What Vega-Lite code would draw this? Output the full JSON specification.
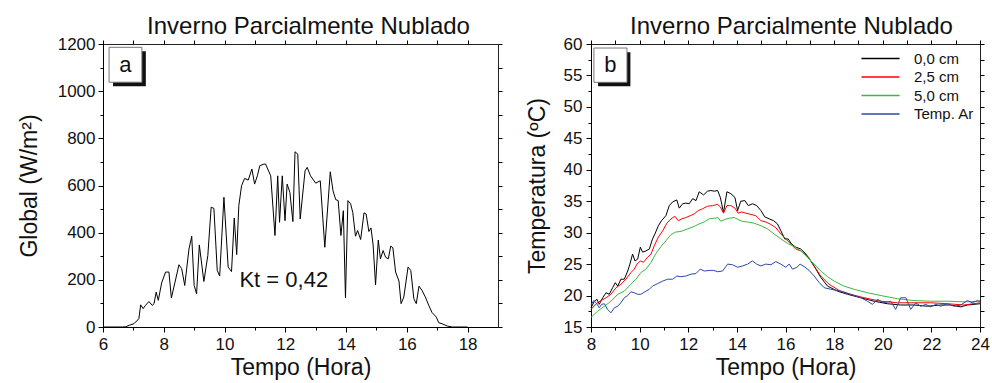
{
  "$schema": "https://vega.github.io/schema/vega-lite/v6.json",
  "background": "white",
  "padding": {"left": 17, "top": 14, "right": 1, "bottom": 0},
  "spacing": 22,
  "resolve": {"scale": {"color": "independent"}, "legend": {"color": "independent"}},
  "config": {
    "font": "Liberation Sans",
    "view": {"stroke": "#222", "strokeWidth": 1},
    "axis": {"grid": false, "labelFontSize": 17, "titleFontSize": 23, "titleFontWeight": "normal", "domainColor": "#000", "tickColor": "#000", "labelColor": "#111", "titleColor": "#111", "tickSize": 5, "labelPadding": 3, "format": "d", "labelFlush": false, "labelOverlap": false},
    "title": {"fontSize": 24, "fontWeight": "normal", "color": "#111", "offset": -4}
  },
  "datasets": {
    "global": [
      {"hora": 6.0, "global": 0}, {"hora": 6.64, "global": 0}, {"hora": 6.75, "global": 1}, {"hora": 6.86, "global": 7}, {"hora": 7.02, "global": 14}, {"hora": 7.18, "global": 35}, {"hora": 7.24, "global": 94}, {"hora": 7.32, "global": 78}, {"hora": 7.40, "global": 92}, {"hora": 7.51, "global": 108}, {"hora": 7.62, "global": 92}, {"hora": 7.68, "global": 99}, {"hora": 7.75, "global": 148}, {"hora": 7.82, "global": 113}, {"hora": 7.93, "global": 187}, {"hora": 8.06, "global": 233}, {"hora": 8.17, "global": 233}, {"hora": 8.25, "global": 123}, {"hora": 8.37, "global": 190}, {"hora": 8.50, "global": 264}, {"hora": 8.59, "global": 247}, {"hora": 8.69, "global": 176}, {"hora": 8.83, "global": 331}, {"hora": 8.92, "global": 385}, {"hora": 9.00, "global": 176}, {"hora": 9.08, "global": 141}, {"hora": 9.17, "global": 348}, {"hora": 9.32, "global": 193}, {"hora": 9.45, "global": 303}, {"hora": 9.56, "global": 508}, {"hora": 9.65, "global": 503}, {"hora": 9.76, "global": 240}, {"hora": 9.84, "global": 216}, {"hora": 9.98, "global": 550}, {"hora": 10.12, "global": 254}, {"hora": 10.23, "global": 235}, {"hora": 10.32, "global": 462}, {"hora": 10.40, "global": 307}, {"hora": 10.47, "global": 515}, {"hora": 10.56, "global": 599}, {"hora": 10.66, "global": 630}, {"hora": 10.78, "global": 623}, {"hora": 10.90, "global": 670}, {"hora": 10.99, "global": 606}, {"hora": 11.08, "global": 641}, {"hora": 11.16, "global": 684}, {"hora": 11.30, "global": 691}, {"hora": 11.35, "global": 691}, {"hora": 11.52, "global": 641}, {"hora": 11.66, "global": 388}, {"hora": 11.75, "global": 641}, {"hora": 11.81, "global": 444}, {"hora": 11.90, "global": 641}, {"hora": 11.99, "global": 451}, {"hora": 12.06, "global": 606}, {"hora": 12.15, "global": 571}, {"hora": 12.25, "global": 447}, {"hora": 12.32, "global": 743}, {"hora": 12.41, "global": 733}, {"hora": 12.49, "global": 458}, {"hora": 12.65, "global": 662}, {"hora": 12.72, "global": 677}, {"hora": 12.83, "global": 641}, {"hora": 13.00, "global": 610}, {"hora": 13.15, "global": 620}, {"hora": 13.30, "global": 338}, {"hora": 13.48, "global": 658}, {"hora": 13.57, "global": 578}, {"hora": 13.66, "global": 540}, {"hora": 13.74, "global": 536}, {"hora": 13.83, "global": 388}, {"hora": 13.91, "global": 493}, {"hora": 13.98, "global": 123}, {"hora": 14.06, "global": 536}, {"hora": 14.15, "global": 522}, {"hora": 14.22, "global": 486}, {"hora": 14.31, "global": 385}, {"hora": 14.38, "global": 409}, {"hora": 14.48, "global": 371}, {"hora": 14.59, "global": 484}, {"hora": 14.66, "global": 479}, {"hora": 14.75, "global": 405}, {"hora": 14.82, "global": 420}, {"hora": 14.89, "global": 348}, {"hora": 14.97, "global": 179}, {"hora": 15.06, "global": 369}, {"hora": 15.13, "global": 289}, {"hora": 15.22, "global": 324}, {"hora": 15.30, "global": 296}, {"hora": 15.39, "global": 289}, {"hora": 15.47, "global": 343}, {"hora": 15.54, "global": 336}, {"hora": 15.63, "global": 233}, {"hora": 15.74, "global": 195}, {"hora": 15.81, "global": 99}, {"hora": 15.90, "global": 127}, {"hora": 16.04, "global": 254}, {"hora": 16.13, "global": 240}, {"hora": 16.23, "global": 120}, {"hora": 16.31, "global": 99}, {"hora": 16.40, "global": 173}, {"hora": 16.50, "global": 155}, {"hora": 16.61, "global": 127}, {"hora": 16.72, "global": 92}, {"hora": 16.83, "global": 61}, {"hora": 16.97, "global": 42}, {"hora": 17.05, "global": 18}, {"hora": 17.16, "global": 14}, {"hora": 17.33, "global": 4}, {"hora": 17.49, "global": 0}, {"hora": 18.0, "global": 0}
    ],
    "temp": [
      {"hora": 8.0, "temp": 18.05, "serie": "0,0 cm"}, {"hora": 8.14, "temp": 19.1, "serie": "0,0 cm"}, {"hora": 8.25, "temp": 19.4, "serie": "0,0 cm"}, {"hora": 8.34, "temp": 18.6, "serie": "0,0 cm"}, {"hora": 8.48, "temp": 19.65, "serie": "0,0 cm"}, {"hora": 8.62, "temp": 20.45, "serie": "0,0 cm"}, {"hora": 8.75, "temp": 20.2, "serie": "0,0 cm"}, {"hora": 8.89, "temp": 21.25, "serie": "0,0 cm"}, {"hora": 9.0, "temp": 22.05, "serie": "0,0 cm"}, {"hora": 9.10, "temp": 21.5, "serie": "0,0 cm"}, {"hora": 9.23, "temp": 22.6, "serie": "0,0 cm"}, {"hora": 9.37, "temp": 22.6, "serie": "0,0 cm"}, {"hora": 9.51, "temp": 23.9, "serie": "0,0 cm"}, {"hora": 9.60, "temp": 25.0, "serie": "0,0 cm"}, {"hora": 9.71, "temp": 26.6, "serie": "0,0 cm"}, {"hora": 9.81, "temp": 25.5, "serie": "0,0 cm"}, {"hora": 9.92, "temp": 25.8, "serie": "0,0 cm"}, {"hora": 10.03, "temp": 27.7, "serie": "0,0 cm"}, {"hora": 10.12, "temp": 26.9, "serie": "0,0 cm"}, {"hora": 10.26, "temp": 27.1, "serie": "0,0 cm"}, {"hora": 10.40, "temp": 27.4, "serie": "0,0 cm"}, {"hora": 10.53, "temp": 29.0, "serie": "0,0 cm"}, {"hora": 10.63, "temp": 29.8, "serie": "0,0 cm"}, {"hora": 10.77, "temp": 31.1, "serie": "0,0 cm"}, {"hora": 10.90, "temp": 31.9, "serie": "0,0 cm"}, {"hora": 11.08, "temp": 32.7, "serie": "0,0 cm"}, {"hora": 11.22, "temp": 34.3, "serie": "0,0 cm"}, {"hora": 11.36, "temp": 34.9, "serie": "0,0 cm"}, {"hora": 11.53, "temp": 35.2, "serie": "0,0 cm"}, {"hora": 11.63, "temp": 33.9, "serie": "0,0 cm"}, {"hora": 11.77, "temp": 34.6, "serie": "0,0 cm"}, {"hora": 11.90, "temp": 34.7, "serie": "0,0 cm"}, {"hora": 12.04, "temp": 34.6, "serie": "0,0 cm"}, {"hora": 12.18, "temp": 35.4, "serie": "0,0 cm"}, {"hora": 12.32, "temp": 35.1, "serie": "0,0 cm"}, {"hora": 12.45, "temp": 36.5, "serie": "0,0 cm"}, {"hora": 12.63, "temp": 36.0, "serie": "0,0 cm"}, {"hora": 12.79, "temp": 36.6, "serie": "0,0 cm"}, {"hora": 12.93, "temp": 36.7, "serie": "0,0 cm"}, {"hora": 13.07, "temp": 36.6, "serie": "0,0 cm"}, {"hora": 13.21, "temp": 36.7, "serie": "0,0 cm"}, {"hora": 13.32, "temp": 35.6, "serie": "0,0 cm"}, {"hora": 13.45, "temp": 33.2, "serie": "0,0 cm"}, {"hora": 13.59, "temp": 36.5, "serie": "0,0 cm"}, {"hora": 13.75, "temp": 36.2, "serie": "0,0 cm"}, {"hora": 13.92, "temp": 35.6, "serie": "0,0 cm"}, {"hora": 14.03, "temp": 33.5, "serie": "0,0 cm"}, {"hora": 14.16, "temp": 35.0, "serie": "0,0 cm"}, {"hora": 14.33, "temp": 35.1, "serie": "0,0 cm"}, {"hora": 14.47, "temp": 34.3, "serie": "0,0 cm"}, {"hora": 14.64, "temp": 34.6, "serie": "0,0 cm"}, {"hora": 14.82, "temp": 34.3, "serie": "0,0 cm"}, {"hora": 14.99, "temp": 33.5, "serie": "0,0 cm"}, {"hora": 15.15, "temp": 32.5, "serie": "0,0 cm"}, {"hora": 15.33, "temp": 32.2, "serie": "0,0 cm"}, {"hora": 15.51, "temp": 31.9, "serie": "0,0 cm"}, {"hora": 15.67, "temp": 31.4, "serie": "0,0 cm"}, {"hora": 15.81, "temp": 30.3, "serie": "0,0 cm"}, {"hora": 15.97, "temp": 29.0, "serie": "0,0 cm"}, {"hora": 16.11, "temp": 29.0, "serie": "0,0 cm"}, {"hora": 16.25, "temp": 28.2, "serie": "0,0 cm"}, {"hora": 16.42, "temp": 27.7, "serie": "0,0 cm"}, {"hora": 16.63, "temp": 27.4, "serie": "0,0 cm"}, {"hora": 16.84, "temp": 26.6, "serie": "0,0 cm"}, {"hora": 17.04, "temp": 25.5, "serie": "0,0 cm"}, {"hora": 17.25, "temp": 24.2, "serie": "0,0 cm"}, {"hora": 17.45, "temp": 22.9, "serie": "0,0 cm"}, {"hora": 17.73, "temp": 21.5, "serie": "0,0 cm"}, {"hora": 18.14, "temp": 20.7, "serie": "0,0 cm"}, {"hora": 18.55, "temp": 20.2, "serie": "0,0 cm"}, {"hora": 19.10, "temp": 19.65, "serie": "0,0 cm"}, {"hora": 19.64, "temp": 19.1, "serie": "0,0 cm"}, {"hora": 20.19, "temp": 18.7, "serie": "0,0 cm"}, {"hora": 20.74, "temp": 18.5, "serie": "0,0 cm"}, {"hora": 21.29, "temp": 18.5, "serie": "0,0 cm"}, {"hora": 21.84, "temp": 18.3, "serie": "0,0 cm"}, {"hora": 22.38, "temp": 18.5, "serie": "0,0 cm"}, {"hora": 22.79, "temp": 18.5, "serie": "0,0 cm"}, {"hora": 23.21, "temp": 18.2, "serie": "0,0 cm"}, {"hora": 23.48, "temp": 18.5, "serie": "0,0 cm"}, {"hora": 24.0, "temp": 18.7, "serie": "0,0 cm"},
      {"hora": 8.0, "temp": 17.8, "serie": "2,5 cm"}, {"hora": 8.21, "temp": 18.7, "serie": "2,5 cm"}, {"hora": 8.41, "temp": 19.2, "serie": "2,5 cm"}, {"hora": 8.62, "temp": 19.65, "serie": "2,5 cm"}, {"hora": 8.82, "temp": 20.2, "serie": "2,5 cm"}, {"hora": 9.03, "temp": 21.25, "serie": "2,5 cm"}, {"hora": 9.23, "temp": 21.8, "serie": "2,5 cm"}, {"hora": 9.44, "temp": 22.6, "serie": "2,5 cm"}, {"hora": 9.64, "temp": 23.65, "serie": "2,5 cm"}, {"hora": 9.78, "temp": 24.2, "serie": "2,5 cm"}, {"hora": 9.89, "temp": 25.0, "serie": "2,5 cm"}, {"hora": 10.03, "temp": 25.5, "serie": "2,5 cm"}, {"hora": 10.16, "temp": 25.3, "serie": "2,5 cm"}, {"hora": 10.33, "temp": 26.1, "serie": "2,5 cm"}, {"hora": 10.47, "temp": 26.6, "serie": "2,5 cm"}, {"hora": 10.60, "temp": 27.9, "serie": "2,5 cm"}, {"hora": 10.77, "temp": 29.3, "serie": "2,5 cm"}, {"hora": 10.95, "temp": 30.3, "serie": "2,5 cm"}, {"hora": 11.12, "temp": 31.5, "serie": "2,5 cm"}, {"hora": 11.29, "temp": 32.2, "serie": "2,5 cm"}, {"hora": 11.45, "temp": 32.6, "serie": "2,5 cm"}, {"hora": 11.59, "temp": 31.9, "serie": "2,5 cm"}, {"hora": 11.73, "temp": 32.2, "serie": "2,5 cm"}, {"hora": 11.90, "temp": 32.4, "serie": "2,5 cm"}, {"hora": 12.08, "temp": 32.7, "serie": "2,5 cm"}, {"hora": 12.25, "temp": 33.0, "serie": "2,5 cm"}, {"hora": 12.41, "temp": 33.5, "serie": "2,5 cm"}, {"hora": 12.59, "temp": 33.8, "serie": "2,5 cm"}, {"hora": 12.79, "temp": 34.2, "serie": "2,5 cm"}, {"hora": 13.0, "temp": 34.3, "serie": "2,5 cm"}, {"hora": 13.21, "temp": 34.5, "serie": "2,5 cm"}, {"hora": 13.32, "temp": 34.1, "serie": "2,5 cm"}, {"hora": 13.45, "temp": 33.1, "serie": "2,5 cm"}, {"hora": 13.59, "temp": 34.3, "serie": "2,5 cm"}, {"hora": 13.75, "temp": 34.3, "serie": "2,5 cm"}, {"hora": 13.92, "temp": 33.9, "serie": "2,5 cm"}, {"hora": 14.05, "temp": 33.1, "serie": "2,5 cm"}, {"hora": 14.19, "temp": 33.3, "serie": "2,5 cm"}, {"hora": 14.37, "temp": 33.1, "serie": "2,5 cm"}, {"hora": 14.58, "temp": 32.9, "serie": "2,5 cm"}, {"hora": 14.78, "temp": 32.7, "serie": "2,5 cm"}, {"hora": 14.99, "temp": 31.9, "serie": "2,5 cm"}, {"hora": 15.19, "temp": 31.7, "serie": "2,5 cm"}, {"hora": 15.40, "temp": 31.3, "serie": "2,5 cm"}, {"hora": 15.60, "temp": 30.8, "serie": "2,5 cm"}, {"hora": 15.81, "temp": 29.8, "serie": "2,5 cm"}, {"hora": 16.01, "temp": 29.0, "serie": "2,5 cm"}, {"hora": 16.22, "temp": 28.2, "serie": "2,5 cm"}, {"hora": 16.42, "temp": 27.4, "serie": "2,5 cm"}, {"hora": 16.63, "temp": 27.1, "serie": "2,5 cm"}, {"hora": 16.90, "temp": 26.3, "serie": "2,5 cm"}, {"hora": 17.18, "temp": 24.7, "serie": "2,5 cm"}, {"hora": 17.45, "temp": 23.1, "serie": "2,5 cm"}, {"hora": 17.79, "temp": 21.8, "serie": "2,5 cm"}, {"hora": 18.21, "temp": 20.8, "serie": "2,5 cm"}, {"hora": 18.68, "temp": 20.2, "serie": "2,5 cm"}, {"hora": 19.23, "temp": 19.65, "serie": "2,5 cm"}, {"hora": 19.92, "temp": 19.1, "serie": "2,5 cm"}, {"hora": 20.60, "temp": 18.85, "serie": "2,5 cm"}, {"hora": 21.29, "temp": 18.85, "serie": "2,5 cm"}, {"hora": 21.97, "temp": 18.85, "serie": "2,5 cm"}, {"hora": 22.66, "temp": 18.7, "serie": "2,5 cm"}, {"hora": 23.34, "temp": 18.5, "serie": "2,5 cm"}, {"hora": 24.0, "temp": 18.85, "serie": "2,5 cm"},
      {"hora": 8.0, "temp": 16.55, "serie": "5,0 cm"}, {"hora": 8.27, "temp": 17.5, "serie": "5,0 cm"}, {"hora": 8.55, "temp": 18.3, "serie": "5,0 cm"}, {"hora": 8.82, "temp": 19.1, "serie": "5,0 cm"}, {"hora": 9.10, "temp": 20.2, "serie": "5,0 cm"}, {"hora": 9.37, "temp": 20.7, "serie": "5,0 cm"}, {"hora": 9.64, "temp": 21.8, "serie": "5,0 cm"}, {"hora": 9.85, "temp": 22.6, "serie": "5,0 cm"}, {"hora": 10.05, "temp": 23.65, "serie": "5,0 cm"}, {"hora": 10.26, "temp": 24.2, "serie": "5,0 cm"}, {"hora": 10.47, "temp": 25.3, "serie": "5,0 cm"}, {"hora": 10.67, "temp": 26.7, "serie": "5,0 cm"}, {"hora": 10.88, "temp": 27.8, "serie": "5,0 cm"}, {"hora": 11.08, "temp": 28.7, "serie": "5,0 cm"}, {"hora": 11.29, "temp": 29.7, "serie": "5,0 cm"}, {"hora": 11.49, "temp": 30.1, "serie": "5,0 cm"}, {"hora": 11.70, "temp": 30.2, "serie": "5,0 cm"}, {"hora": 11.97, "temp": 30.6, "serie": "5,0 cm"}, {"hora": 12.25, "temp": 31.0, "serie": "5,0 cm"}, {"hora": 12.45, "temp": 31.4, "serie": "5,0 cm"}, {"hora": 12.66, "temp": 31.7, "serie": "5,0 cm"}, {"hora": 12.86, "temp": 32.2, "serie": "5,0 cm"}, {"hora": 13.07, "temp": 32.3, "serie": "5,0 cm"}, {"hora": 13.23, "temp": 32.4, "serie": "5,0 cm"}, {"hora": 13.34, "temp": 31.8, "serie": "5,0 cm"}, {"hora": 13.51, "temp": 32.1, "serie": "5,0 cm"}, {"hora": 13.68, "temp": 32.3, "serie": "5,0 cm"}, {"hora": 13.89, "temp": 32.4, "serie": "5,0 cm"}, {"hora": 14.05, "temp": 32.1, "serie": "5,0 cm"}, {"hora": 14.23, "temp": 31.8, "serie": "5,0 cm"}, {"hora": 14.44, "temp": 31.7, "serie": "5,0 cm"}, {"hora": 14.71, "temp": 31.5, "serie": "5,0 cm"}, {"hora": 14.99, "temp": 31.1, "serie": "5,0 cm"}, {"hora": 15.26, "temp": 30.6, "serie": "5,0 cm"}, {"hora": 15.53, "temp": 29.8, "serie": "5,0 cm"}, {"hora": 15.81, "temp": 29.0, "serie": "5,0 cm"}, {"hora": 16.08, "temp": 28.3, "serie": "5,0 cm"}, {"hora": 16.36, "temp": 27.8, "serie": "5,0 cm"}, {"hora": 16.63, "temp": 27.1, "serie": "5,0 cm"}, {"hora": 16.90, "temp": 26.1, "serie": "5,0 cm"}, {"hora": 17.18, "temp": 25.0, "serie": "5,0 cm"}, {"hora": 17.45, "temp": 23.9, "serie": "5,0 cm"}, {"hora": 17.73, "temp": 23.0, "serie": "5,0 cm"}, {"hora": 18.0, "temp": 22.3, "serie": "5,0 cm"}, {"hora": 18.41, "temp": 21.5, "serie": "5,0 cm"}, {"hora": 18.82, "temp": 21.0, "serie": "5,0 cm"}, {"hora": 19.37, "temp": 20.45, "serie": "5,0 cm"}, {"hora": 19.92, "temp": 20.0, "serie": "5,0 cm"}, {"hora": 20.60, "temp": 19.5, "serie": "5,0 cm"}, {"hora": 21.29, "temp": 19.2, "serie": "5,0 cm"}, {"hora": 21.97, "temp": 19.1, "serie": "5,0 cm"}, {"hora": 22.66, "temp": 19.1, "serie": "5,0 cm"}, {"hora": 23.34, "temp": 19.0, "serie": "5,0 cm"}, {"hora": 24.0, "temp": 19.1, "serie": "5,0 cm"},
      {"hora": 8.0, "temp": 18.5, "serie": "Temp. Ar"}, {"hora": 8.11, "temp": 19.2, "serie": "Temp. Ar"}, {"hora": 8.21, "temp": 18.85, "serie": "Temp. Ar"}, {"hora": 8.34, "temp": 18.05, "serie": "Temp. Ar"}, {"hora": 8.44, "temp": 18.6, "serie": "Temp. Ar"}, {"hora": 8.55, "temp": 18.7, "serie": "Temp. Ar"}, {"hora": 8.68, "temp": 17.8, "serie": "Temp. Ar"}, {"hora": 8.82, "temp": 17.25, "serie": "Temp. Ar"}, {"hora": 8.96, "temp": 18.05, "serie": "Temp. Ar"}, {"hora": 9.10, "temp": 18.3, "serie": "Temp. Ar"}, {"hora": 9.23, "temp": 18.85, "serie": "Temp. Ar"}, {"hora": 9.37, "temp": 19.65, "serie": "Temp. Ar"}, {"hora": 9.51, "temp": 20.0, "serie": "Temp. Ar"}, {"hora": 9.64, "temp": 20.6, "serie": "Temp. Ar"}, {"hora": 9.78, "temp": 20.45, "serie": "Temp. Ar"}, {"hora": 9.92, "temp": 20.2, "serie": "Temp. Ar"}, {"hora": 10.05, "temp": 20.2, "serie": "Temp. Ar"}, {"hora": 10.26, "temp": 20.7, "serie": "Temp. Ar"}, {"hora": 10.40, "temp": 21.0, "serie": "Temp. Ar"}, {"hora": 10.53, "temp": 21.5, "serie": "Temp. Ar"}, {"hora": 10.74, "temp": 21.9, "serie": "Temp. Ar"}, {"hora": 10.95, "temp": 22.3, "serie": "Temp. Ar"}, {"hora": 11.15, "temp": 22.6, "serie": "Temp. Ar"}, {"hora": 11.36, "temp": 22.6, "serie": "Temp. Ar"}, {"hora": 11.53, "temp": 23.1, "serie": "Temp. Ar"}, {"hora": 11.70, "temp": 23.0, "serie": "Temp. Ar"}, {"hora": 11.90, "temp": 23.1, "serie": "Temp. Ar"}, {"hora": 12.11, "temp": 23.4, "serie": "Temp. Ar"}, {"hora": 12.32, "temp": 23.5, "serie": "Temp. Ar"}, {"hora": 12.49, "temp": 24.2, "serie": "Temp. Ar"}, {"hora": 12.66, "temp": 23.9, "serie": "Temp. Ar"}, {"hora": 12.86, "temp": 24.0, "serie": "Temp. Ar"}, {"hora": 13.04, "temp": 24.0, "serie": "Temp. Ar"}, {"hora": 13.21, "temp": 23.8, "serie": "Temp. Ar"}, {"hora": 13.41, "temp": 23.9, "serie": "Temp. Ar"}, {"hora": 13.62, "temp": 25.0, "serie": "Temp. Ar"}, {"hora": 13.82, "temp": 24.9, "serie": "Temp. Ar"}, {"hora": 14.03, "temp": 24.5, "serie": "Temp. Ar"}, {"hora": 14.23, "temp": 24.7, "serie": "Temp. Ar"}, {"hora": 14.44, "temp": 25.0, "serie": "Temp. Ar"}, {"hora": 14.64, "temp": 25.5, "serie": "Temp. Ar"}, {"hora": 14.82, "temp": 25.0, "serie": "Temp. Ar"}, {"hora": 14.99, "temp": 24.7, "serie": "Temp. Ar"}, {"hora": 15.19, "temp": 25.0, "serie": "Temp. Ar"}, {"hora": 15.40, "temp": 24.9, "serie": "Temp. Ar"}, {"hora": 15.60, "temp": 25.4, "serie": "Temp. Ar"}, {"hora": 15.81, "temp": 25.0, "serie": "Temp. Ar"}, {"hora": 16.01, "temp": 24.5, "serie": "Temp. Ar"}, {"hora": 16.15, "temp": 25.0, "serie": "Temp. Ar"}, {"hora": 16.29, "temp": 24.2, "serie": "Temp. Ar"}, {"hora": 16.47, "temp": 24.5, "serie": "Temp. Ar"}, {"hora": 16.60, "temp": 25.0, "serie": "Temp. Ar"}, {"hora": 16.77, "temp": 24.6, "serie": "Temp. Ar"}, {"hora": 16.97, "temp": 24.0, "serie": "Temp. Ar"}, {"hora": 17.18, "temp": 23.1, "serie": "Temp. Ar"}, {"hora": 17.38, "temp": 22.1, "serie": "Temp. Ar"}, {"hora": 17.59, "temp": 21.25, "serie": "Temp. Ar"}, {"hora": 17.86, "temp": 21.0, "serie": "Temp. Ar"}, {"hora": 18.27, "temp": 20.7, "serie": "Temp. Ar"}, {"hora": 18.68, "temp": 20.2, "serie": "Temp. Ar"}, {"hora": 19.10, "temp": 19.65, "serie": "Temp. Ar"}, {"hora": 19.37, "temp": 19.1, "serie": "Temp. Ar"}, {"hora": 19.58, "temp": 18.6, "serie": "Temp. Ar"}, {"hora": 19.78, "temp": 19.4, "serie": "Temp. Ar"}, {"hora": 20.05, "temp": 18.85, "serie": "Temp. Ar"}, {"hora": 20.33, "temp": 19.1, "serie": "Temp. Ar"}, {"hora": 20.53, "temp": 17.8, "serie": "Temp. Ar"}, {"hora": 20.74, "temp": 19.65, "serie": "Temp. Ar"}, {"hora": 20.95, "temp": 19.65, "serie": "Temp. Ar"}, {"hora": 21.15, "temp": 17.8, "serie": "Temp. Ar"}, {"hora": 21.36, "temp": 18.85, "serie": "Temp. Ar"}, {"hora": 21.56, "temp": 18.3, "serie": "Temp. Ar"}, {"hora": 21.77, "temp": 18.6, "serie": "Temp. Ar"}, {"hora": 21.97, "temp": 18.2, "serie": "Temp. Ar"}, {"hora": 22.18, "temp": 18.6, "serie": "Temp. Ar"}, {"hora": 22.38, "temp": 18.3, "serie": "Temp. Ar"}, {"hora": 22.66, "temp": 18.7, "serie": "Temp. Ar"}, {"hora": 22.93, "temp": 18.3, "serie": "Temp. Ar"}, {"hora": 23.21, "temp": 18.5, "serie": "Temp. Ar"}, {"hora": 23.48, "temp": 19.2, "serie": "Temp. Ar"}, {"hora": 23.68, "temp": 18.85, "serie": "Temp. Ar"}, {"hora": 23.89, "temp": 19.2, "serie": "Temp. Ar"}, {"hora": 24.0, "temp": 19.1, "serie": "Temp. Ar"}
    ]
  },
  "hconcat": [
    {
      "width": 395,
      "height": 283,
      "title": {"text": "Inverno Parcialmente Nublado", "dx": 8},
      "resolve": {"axis": {"x": "independent", "y": "independent"}},
      "layer": [
        {
          "data": {"name": "global"},
          "mark": {"type": "line", "color": "#000", "strokeWidth": 1},
          "encoding": {
            "x": {"field": "hora", "type": "quantitative", "scale": {"domain": [6, 19], "nice": false, "zero": false}, "axis": {"values": [6, 8, 10, 12, 14, 16, 18], "title": "Tempo (Hora)", "orient": "bottom", "titlePadding": 4, "labelPadding": 4}},
            "y": {"field": "global", "type": "quantitative", "scale": {"domain": [0, 1200], "nice": false}, "axis": {"values": [0, 200, 400, 600, 800, 1000, 1200], "title": "Global (W/m²)", "orient": "left", "titlePadding": 16}}
          }
        },
        {
          "data": {"name": "global"},
          "mark": {"type": "line", "opacity": 0},
          "encoding": {
            "x": {"field": "hora", "type": "quantitative", "axis": {"values": [7, 9, 11, 13, 15, 17], "labels": false, "domain": false, "tickSize": 3, "title": null, "orient": "bottom"}},
            "y": {"field": "global", "type": "quantitative", "axis": {"values": [100, 300, 500, 700, 900, 1100], "labels": false, "domain": false, "tickSize": 3, "title": null, "orient": "left"}}
          }
        },
        {
          "data": {"name": "global"},
          "mark": {"type": "line", "opacity": 0},
          "encoding": {
            "x": {"field": "hora", "type": "quantitative", "axis": {"values": [6, 7, 8, 9, 10, 11, 12, 13, 14, 15, 16, 17, 18], "labels": false, "domain": false, "tickSize": 4, "title": null, "orient": "top"}},
            "y": {"field": "global", "type": "quantitative", "axis": {"values": [0, 100, 200, 300, 400, 500, 600, 700, 800, 900, 1000, 1100, 1200], "labels": false, "domain": false, "tickSize": 4, "title": null, "orient": "right"}}
          }
        },
        {
          "data": {"values": [{}]},
          "mark": {"type": "rect", "color": "#111"},
          "encoding": {
            "x": {"datum": 6.33, "type": "quantitative", "axis": null}, "x2": {"datum": 7.41},
            "y": {"datum": 1169, "type": "quantitative", "axis": null}, "y2": {"datum": 1021}
          }
        },
        {
          "data": {"values": [{}]},
          "mark": {"type": "rect", "fill": "#fff", "stroke": "#777", "strokeWidth": 1},
          "encoding": {
            "x": {"datum": 6.2, "type": "quantitative", "axis": null}, "x2": {"datum": 7.28},
            "y": {"datum": 1186, "type": "quantitative", "axis": null}, "y2": {"datum": 1038}
          }
        },
        {
          "data": {"values": [{}]},
          "mark": {"type": "text", "text": "a", "fontSize": 22, "align": "center", "baseline": "middle", "color": "#111"},
          "encoding": {
            "x": {"datum": 6.74, "type": "quantitative", "axis": null},
            "y": {"datum": 1113, "type": "quantitative", "axis": null}
          }
        },
        {
          "data": {"values": [{}]},
          "mark": {"type": "text", "text": "Kt = 0,42", "fontSize": 22, "align": "center", "baseline": "middle", "color": "#111"},
          "encoding": {
            "x": {"datum": 11.95, "type": "quantitative", "axis": null},
            "y": {"datum": 200, "type": "quantitative", "axis": null}
          }
        }
      ]
    },
    {
      "width": 389,
      "height": 283,
      "title": {"text": "Inverno Parcialmente Nublado", "dx": 6},
      "resolve": {"axis": {"x": "independent", "y": "independent"}},
      "layer": [
        {
          "data": {"name": "temp"},
          "mark": {"type": "line", "strokeWidth": 1},
          "encoding": {
            "x": {"field": "hora", "type": "quantitative", "scale": {"domain": [8, 24], "nice": false, "zero": false}, "axis": {"values": [8, 10, 12, 14, 16, 18, 20, 22, 24], "title": "Tempo (Hora)", "orient": "bottom", "titlePadding": 4, "labelPadding": 4}},
            "y": {"field": "temp", "type": "quantitative", "scale": {"domain": [15, 60], "nice": false, "zero": false}, "axis": {"values": [15, 20, 25, 30, 35, 40, 45, 50, 55, 60], "title": "Temperatura (ºC)", "orient": "left", "titlePadding": 14, "labelPadding": 4}},
            "color": {"field": "serie", "type": "nominal", "scale": {"domain": ["0,0 cm", "2,5 cm", "5,0 cm", "Temp. Ar"], "range": ["#000000", "#ff0000", "#3cb83c", "#2a4aa8"]},
              "legend": {"title": null, "orient": "top-right", "offset": 3, "padding": 2, "labelFontSize": 15, "symbolType": "M-2.2,0H2.2", "symbolSize": 300, "symbolStrokeWidth": 1.5, "rowPadding": 0.5, "labelOffset": 24, "labelColor": "#111"}}
          }
        },
        {
          "data": {"name": "temp"},
          "mark": {"type": "line", "opacity": 0},
          "encoding": {
            "x": {"field": "hora", "type": "quantitative", "axis": {"values": [9, 11, 13, 15, 17, 19, 21, 23], "labels": false, "domain": false, "tickSize": 3, "title": null, "orient": "bottom"}},
            "y": {"field": "temp", "type": "quantitative", "axis": {"values": [17.5, 22.5, 27.5, 32.5, 37.5, 42.5, 47.5, 52.5, 57.5], "labels": false, "domain": false, "tickSize": 3, "title": null, "orient": "left"}}
          }
        },
        {
          "data": {"name": "temp"},
          "mark": {"type": "line", "opacity": 0},
          "encoding": {
            "x": {"field": "hora", "type": "quantitative", "axis": {"values": [8, 9, 10, 11, 12, 13, 14, 15, 16, 17, 18, 19, 20, 21, 22, 23, 24], "labels": false, "domain": false, "tickSize": 4, "title": null, "orient": "top"}},
            "y": {"field": "temp", "type": "quantitative", "axis": {"values": [15, 17.5, 20, 22.5, 25, 27.5, 30, 32.5, 35, 37.5, 40, 42.5, 45, 47.5, 50, 52.5, 55, 57.5, 60], "labels": false, "domain": false, "tickSize": 4, "title": null, "orient": "right"}}
          }
        },
        {
          "data": {"values": [{}]},
          "mark": {"type": "rect", "color": "#111"},
          "encoding": {
            "x": {"datum": 8.29, "type": "quantitative", "axis": null}, "x2": {"datum": 9.62},
            "y": {"datum": 58.7, "type": "quantitative", "axis": null}, "y2": {"datum": 53.27}
          }
        },
        {
          "data": {"values": [{}]},
          "mark": {"type": "rect", "fill": "#fff", "stroke": "#777", "strokeWidth": 1},
          "encoding": {
            "x": {"datum": 8.12, "type": "quantitative", "axis": null}, "x2": {"datum": 9.48},
            "y": {"datum": 59.36, "type": "quantitative", "axis": null}, "y2": {"datum": 53.91}
          }
        },
        {
          "data": {"values": [{}]},
          "mark": {"type": "text", "text": "b", "fontSize": 22, "align": "center", "baseline": "middle", "color": "#111"},
          "encoding": {
            "x": {"datum": 8.8, "type": "quantitative", "axis": null},
            "y": {"datum": 56.6, "type": "quantitative", "axis": null}
          }
        }
      ]
    }
  ]
}
